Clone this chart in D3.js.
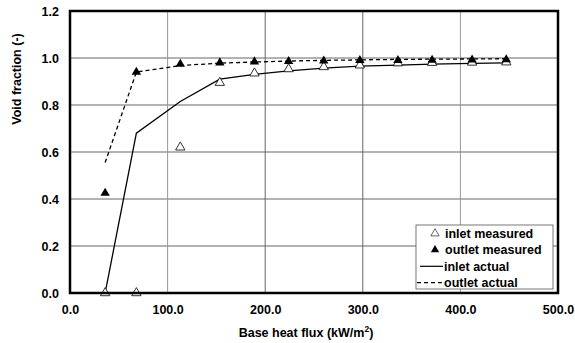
<!DOCTYPE html>
<html>
<head>
<meta charset="utf-8">
<script src="https://cdn.jsdelivr.net/npm/d3@7"></script>
<style>
  body { margin: 0; background: #fff; }
  text { font-family: "Liberation Sans", Arial, sans-serif; font-weight: bold; }
</style>
</head>
<body>
<div id="wrapper"></div>
<script>
const heatFlux = [36, 68, 113, 153.5, 189, 224, 260, 297, 336, 371, 412, 447]
const inletMeasured = [0, 0, 0.62, 0.895, 0.935, 0.953, 0.962, 0.969, 0.978, 0.98, 0.981, 0.982]
const outletMeasured = [0.425, 0.94, 0.974, 0.98, 0.984, 0.986, 0.988, 0.99, 0.99, 0.991, 0.992, 0.993]
const inletActual = [0, 0.68, 0.815, 0.91, 0.93, 0.945, 0.957, 0.965, 0.97, 0.974, 0.977, 0.979]
const outletActual = [0.555, 0.94, 0.968, 0.978, 0.983, 0.987, 0.99, 0.992, 0.994, 0.995, 0.996, 0.997]
const xTicks = [0, 100, 200, 300, 400, 500]
const yTicks = [0, 0.2, 0.4, 0.6, 0.8, 1.0, 1.2]
const legendLabels = ["inlet measured", "outlet measured", "inlet actual", "outlet actual"]

function drawChart() {
  let dimensions = {
    width: 575,
    height: 343,
    margin: { top: 11, right: 17, bottom: 50, left: 70 },
  }
  dimensions.boundedWidth = dimensions.width - dimensions.margin.left - dimensions.margin.right
  dimensions.boundedHeight = dimensions.height - dimensions.margin.top - dimensions.margin.bottom

  const wrapper = d3.select("#wrapper")
    .append("svg")
      .attr("width", dimensions.width)
      .attr("height", dimensions.height)

  const bounds = wrapper.append("g")
    .attr("transform", `translate(${dimensions.margin.left},${dimensions.margin.top})`)

  const xScale = d3.scaleLinear()
    .domain([0, 500])
    .range([0, dimensions.boundedWidth])

  const yScale = d3.scaleLinear()
    .domain([0, 1.2])
    .range([dimensions.boundedHeight, 0])

  // gridlines
  bounds.selectAll(".hgrid")
    .data(yTicks.filter(d => d > 0 && d < 1.2))
    .join("line")
      .attr("x1", 0)
      .attr("x2", dimensions.boundedWidth)
      .attr("y1", d => yScale(d))
      .attr("y2", d => yScale(d))
      .attr("stroke", "#666")
      .attr("stroke-width", 1)

  bounds.selectAll(".vgrid")
    .data(xTicks.filter(d => d > 0 && d < 500))
    .join("line")
      .attr("x1", d => xScale(d))
      .attr("x2", d => xScale(d))
      .attr("y1", 0)
      .attr("y2", dimensions.boundedHeight)
      .attr("stroke", d => d === 100 || d === 400 ? "#999" : "#666")
      .attr("stroke-width", 1)

  // axes
  const xAxis = bounds.append("g")
    .attr("transform", `translate(0,${dimensions.boundedHeight})`)
    .call(d3.axisBottom(xScale).tickValues(xTicks).tickSize(0).tickPadding(12).tickFormat(d3.format(".1f")))
  const yAxis = bounds.append("g")
    .call(d3.axisLeft(yScale).tickValues(yTicks).tickSize(0).tickPadding(11).tickFormat(d3.format(".1f")))

  for (const axis of [xAxis, yAxis]) {
    axis.select(".domain").remove()
    axis.selectAll("text")
      .style("font-size", "12.5px")
      .style("font-family", "Liberation Sans, Arial, sans-serif")
      .style("font-weight", "bold")
      .attr("fill", "#000")
  }

  // lines
  const lineGenerator = d3.line()
    .x((d, i) => xScale(heatFlux[i]))
    .y(d => yScale(d))

  bounds.append("path")
    .datum(inletActual)
    .attr("d", lineGenerator)
    .attr("fill", "none")
    .attr("stroke", "#000")
    .attr("stroke-width", 1.3)

  bounds.append("path")
    .datum(outletActual)
    .attr("d", lineGenerator)
    .attr("fill", "none")
    .attr("stroke", "#000")
    .attr("stroke-width", 1.3)
    .attr("stroke-dasharray", "4 3")

  // markers
  const triangle = d3.symbol().type(d3.symbolTriangle).size(38)

  bounds.selectAll(".inlet-pt")
    .data(inletMeasured)
    .join("path")
      .attr("transform", (d, i) => `translate(${xScale(heatFlux[i])},${yScale(d)})`)
      .attr("d", triangle)
      .attr("fill", "#fff")
      .attr("stroke", "#000")
      .attr("stroke-width", 0.8)

  bounds.selectAll(".outlet-pt")
    .data(outletMeasured)
    .join("path")
      .attr("transform", (d, i) => `translate(${xScale(heatFlux[i])},${yScale(d)})`)
      .attr("d", triangle)
      .attr("fill", "#000")

  // plot border
  bounds.append("rect")
    .attr("width", dimensions.boundedWidth)
    .attr("height", dimensions.boundedHeight)
    .attr("fill", "none")
    .attr("stroke", "#000")
    .attr("stroke-width", 2.5)

  // axis titles
  const xTitle = wrapper.append("text")
    .attr("x", dimensions.margin.left + dimensions.boundedWidth / 2 - 8)
    .attr("y", 337)
    .attr("text-anchor", "middle")
    .style("font-size", "12.5px")
  xTitle.append("tspan").text("Base heat flux (kW/m")
  xTitle.append("tspan").attr("dy", -5).style("font-size", "8.5px").text("2")
  xTitle.append("tspan").attr("dy", 5).text(")")

  wrapper.append("text")
    .attr("transform", "translate(21,79) rotate(-90)")
    .attr("text-anchor", "middle")
    .style("font-size", "12.5px")
    .text("Void fraction (-)")

  // legend
  const legend = wrapper.append("g")
    .attr("transform", "translate(416,225)")

  legend.append("rect")
    .attr("width", 137)
    .attr("height", 64)
    .attr("fill", "#fff")
    .attr("stroke", "#555")
    .attr("stroke-width", 0.8)

  legendLabels.forEach((label, i) => {
    const y = 8.5 + i * 16.4
    if (i < 2) {
      legend.append("path")
        .attr("transform", `translate(19,${y})`)
        .attr("d", d3.symbol().type(d3.symbolTriangle).size(30))
        .attr("fill", i === 0 ? "#fff" : "#000")
        .attr("stroke", "#000")
        .attr("stroke-width", i === 0 ? 0.6 : 0)
    } else {
      legend.append("line")
        .attr("x1", i === 3 ? 1 : 4)
        .attr("x2", 27)
        .attr("y1", y)
        .attr("y2", y)
        .attr("stroke", "#000")
        .attr("stroke-width", 1.2)
        .attr("stroke-dasharray", i === 3 ? "4 3" : null)
    }
    legend.append("text")
      .attr("x", i < 2 ? 29 : 28)
      .attr("y", y + 4.5)
      .style("font-size", "12.5px")
      .text(label)
  })
}

drawChart()
</script>
</body>
</html>
